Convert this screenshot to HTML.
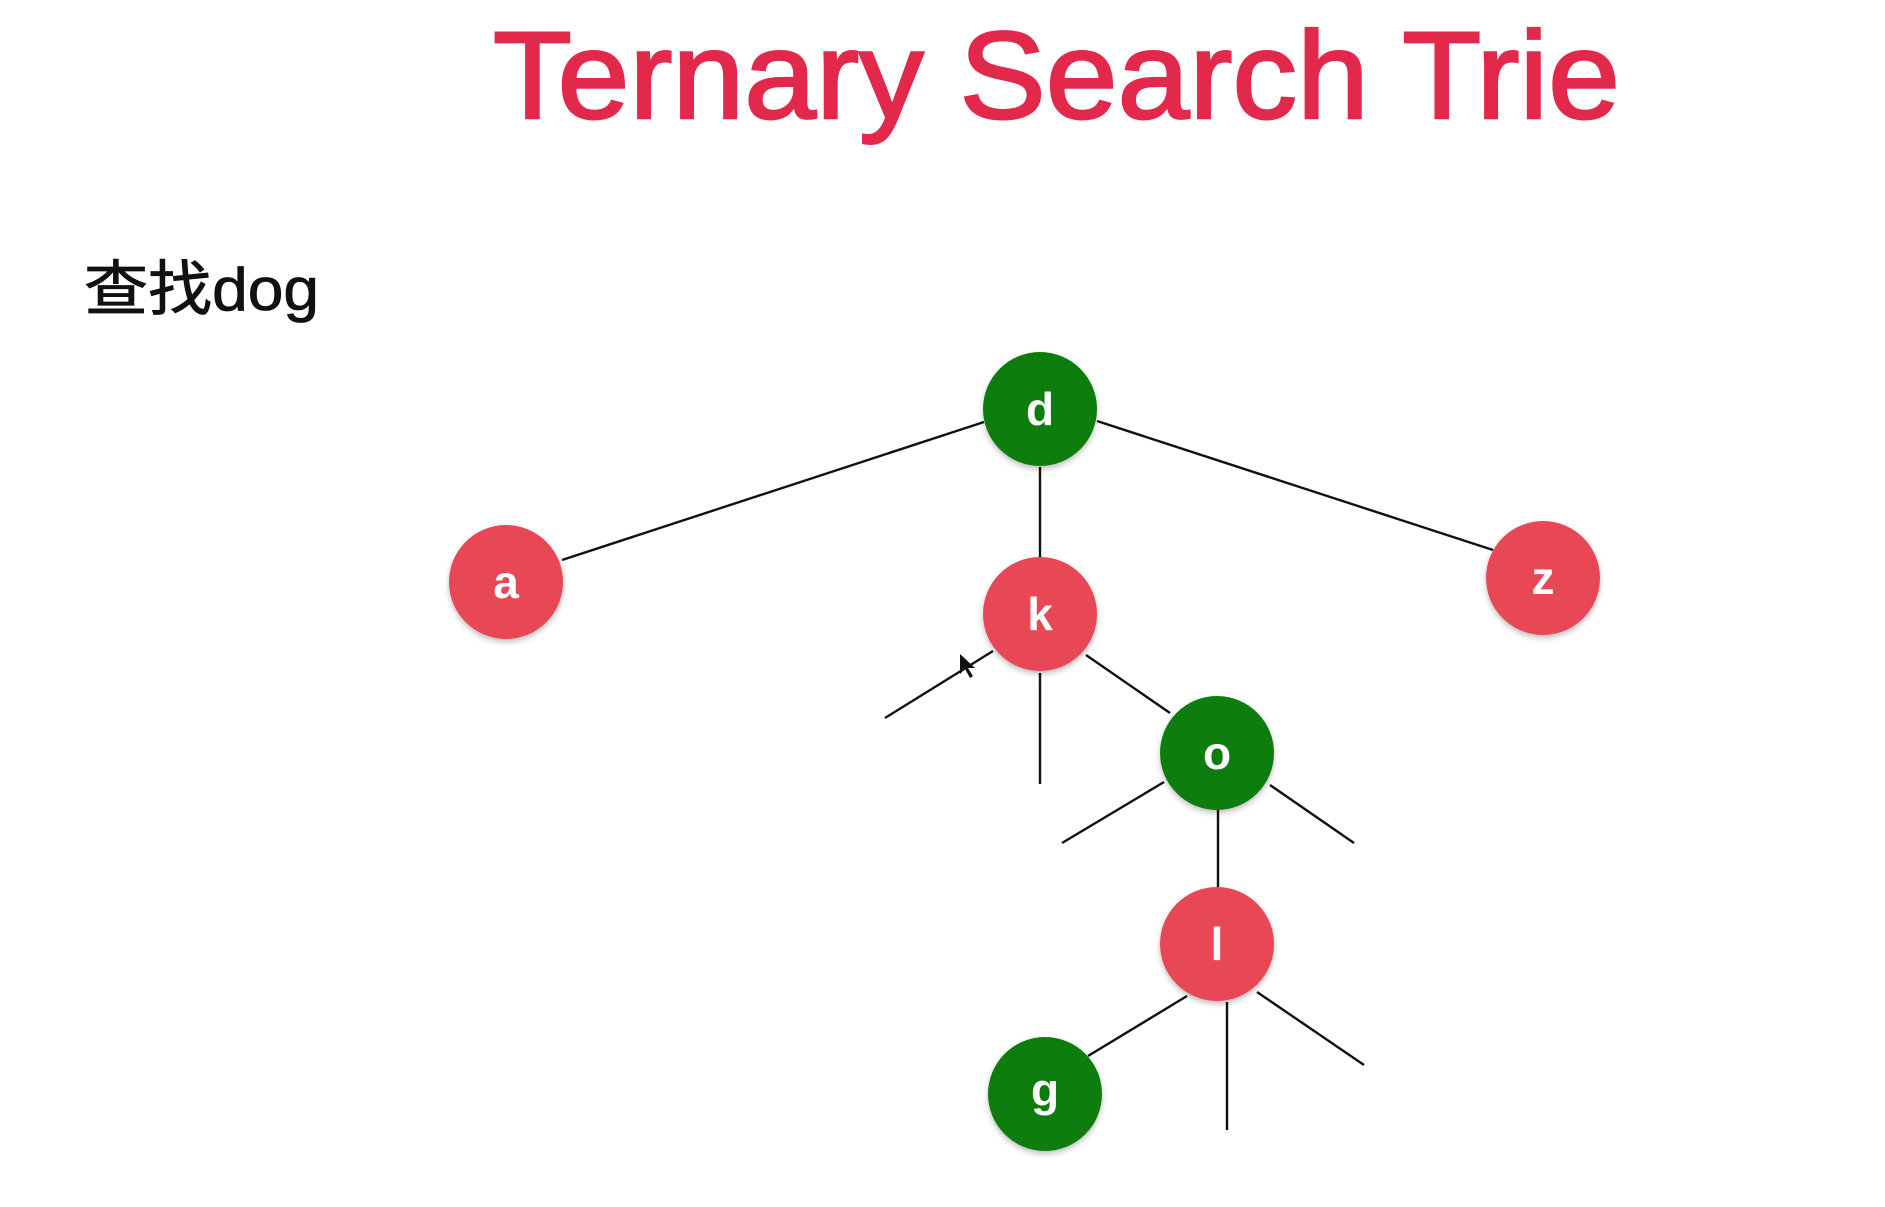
<!DOCTYPE html>
<html><head><meta charset="utf-8"><style>html,body{margin:0;padding:0;background:#fff}svg{display:block}</style></head>
<body>
<svg width="1885" height="1207" viewBox="0 0 1885 1207" xmlns="http://www.w3.org/2000/svg">
<defs><filter id="sh" x="-30%" y="-30%" width="160%" height="160%"><feDropShadow dx="0" dy="3" stdDeviation="3" flood-color="#000" flood-opacity="0.25"/></filter></defs>
<text x="493" y="118" font-family="Liberation Sans, sans-serif" font-size="124" fill="#e2294b" stroke="#e2294b" stroke-width="2.5" textLength="1127" lengthAdjust="spacingAndGlyphs">Ternary Search Trie</text>
<text x="84" y="310" font-family="Liberation Sans, 'Noto Sans CJK SC', sans-serif" font-size="60" fill="#111" stroke="#111" stroke-width="0.8" textLength="235" lengthAdjust="spacingAndGlyphs">查找dog</text>
<g stroke="#111" stroke-width="2.4" fill="none">
<line x1="984" y1="422" x2="562" y2="560"/>
<line x1="1097" y1="421" x2="1493" y2="550"/>
<line x1="1040" y1="467" x2="1040" y2="557"/>
<line x1="993" y1="651" x2="885" y2="718"/>
<line x1="1040" y1="673" x2="1040" y2="784"/>
<line x1="1086" y1="655" x2="1170" y2="713"/>
<line x1="1164" y1="782" x2="1062" y2="843"/>
<line x1="1270" y1="785" x2="1354" y2="843"/>
<line x1="1218" y1="810" x2="1218" y2="887"/>
<line x1="1187" y1="996" x2="1088" y2="1056"/>
<line x1="1227" y1="1002" x2="1227" y2="1130"/>
<line x1="1257" y1="992" x2="1364" y2="1065"/>
</g>
<g filter="url(#sh)">
<circle cx="1040" cy="409" r="57" fill="#0a7d0e"/>
<circle cx="506" cy="582" r="57" fill="#e84656"/>
<circle cx="1040" cy="614" r="57" fill="#e84656"/>
<circle cx="1543" cy="578" r="57" fill="#e84656"/>
<circle cx="1217" cy="753" r="57" fill="#0a7d0e"/>
<circle cx="1217" cy="944" r="57" fill="#e84656"/>
<circle cx="1045" cy="1094" r="57" fill="#0a7d0e"/>
</g>
<g font-family="Liberation Sans, sans-serif" font-weight="bold" font-size="46" fill="#fff" text-anchor="middle">
<text x="1040" y="425">d</text>
<text x="506" y="598">a</text>
<text x="1040" y="630">k</text>
<text x="1543" y="594">z</text>
<text x="1217" y="769">o</text>
<text x="1217" y="960">l</text>
<text x="1045" y="1106">g</text>
</g>
<path d="M960 654 l0 20 l5 -5 l5 9 l3 -2 l-5 -8 l7 0 z" fill="#111"/>
</svg>
</body></html>
